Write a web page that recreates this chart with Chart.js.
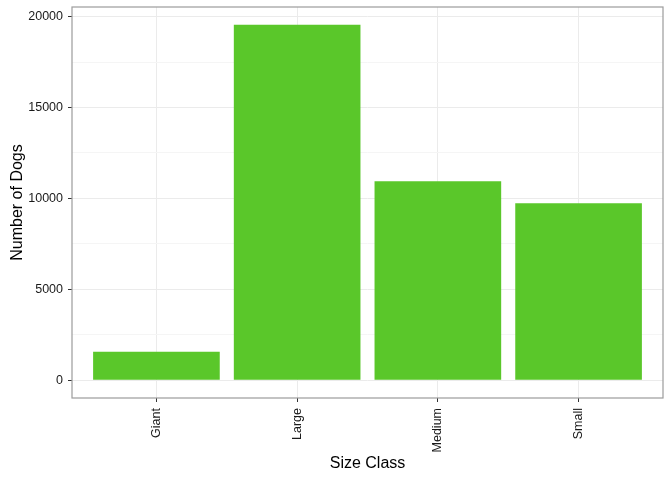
<!DOCTYPE html>
<html lang="en">
<head>
    <meta charset="UTF-8">
    <title>Number of Dogs by Size Class</title>
    <script src="https://cdn.jsdelivr.net/npm/chart.js"></script>
    <style>
        html, body {
            margin: 0;
            padding: 0;
            background: #ffffff;
        }
        .chart-container {
            width: 672px;
            height: 480px;
        }
    </style>
</head>
<body>
    <div class="chart-container">
        <canvas id="dogChart" width="672" height="480"></canvas>
    </div>
    <script>
        // Data
        const sizeClasses = ["Giant", "Large", "Medium", "Small"];
        const dogCounts = [1560, 19550, 10940, 9730];
        const yTicks = [0, 2500, 5000, 7500, 10000, 12500, 15000, 17500, 20000];
        const yLabelStep = 5000;

        const barColor = "#5AC72A";
        const fontFamily = "'Liberation Sans', Arial, sans-serif";

        // ggplot-like 5% expansion on the y range
        const yMaxData = Math.max(...dogCounts);
        const yMin = -0.05 * yMaxData;
        const yMax = 1.05 * yMaxData;

        // Draw the full panel border (top/right/bottom/left)
        const panelBorder = {
            id: "panelBorder",
            afterDatasetsDraw(chart) {
                const { ctx, chartArea } = chart;
                ctx.save();
                ctx.strokeStyle = "#9c9c9c";
                ctx.lineWidth = 1.2;
                ctx.strokeRect(chartArea.left, chartArea.top,
                    chartArea.right - chartArea.left, chartArea.bottom - chartArea.top);
                ctx.restore();
            }
        };

        const isMajor = v => v % yLabelStep === 0;

        new Chart(document.getElementById("dogChart"), {
            type: "bar",
            data: {
                datasets: [{
                    label: "Number of Dogs",
                    data: sizeClasses.map((c, i) => ({ x: i + 1, y: dogCounts[i] })),
                    backgroundColor: barColor,
                    borderWidth: 0,
                    barPercentage: 0.9,
                    categoryPercentage: 1.0
                }]
            },
            options: {
                responsive: false,
                animation: false,
                layout: {
                    padding: { top: 7, right: 9, bottom: 0, left: 0 }
                },
                plugins: {
                    legend: { display: false },
                    tooltip: { enabled: false }
                },
                scales: {
                    x: {
                        type: "linear",
                        offset: false,
                        min: 0.4,
                        max: sizeClasses.length + 0.6,
                        afterBuildTicks: scale => {
                            scale.ticks = sizeClasses.map((c, i) => ({ value: i + 1 }));
                        },
                        afterFit: scale => {
                            scale.height = 82;
                            scale.paddingLeft = 0;
                            scale.paddingRight = 0;
                        },
                        ticks: {
                            autoSkip: false,
                            minRotation: 90,
                            maxRotation: 90,
                            padding: 6,
                            color: "#1a1a1a",
                            font: { family: fontFamily, size: 12.5 },
                            callback: v => sizeClasses[v - 1] || ""
                        },
                        grid: {
                            offset: false,
                            color: "#ebebeb",
                            lineWidth: 1,
                            tickLength: 4,
                            tickColor: "#333333"
                        },
                        border: { display: false },
                        title: {
                            display: true,
                            text: "Size Class",
                            color: "#000000",
                            font: { family: fontFamily, size: 16 },
                            padding: { top: 0, bottom: 7 }
                        }
                    },
                    y: {
                        min: yMin,
                        max: yMax,
                        afterBuildTicks: scale => {
                            scale.ticks = yTicks.map(v => ({ value: v }));
                        },
                        afterFit: scale => {
                            scale.width = 72;
                            scale.paddingTop = 0;
                            scale.paddingBottom = 0;
                        },
                        ticks: {
                            padding: 5,
                            color: "#1a1a1a",
                            font: { family: fontFamily, size: 12.5 },
                            callback: v => isMajor(v) ? String(v) : ""
                        },
                        grid: {
                            color: ctx => isMajor(ctx.tick.value) ? "#ebebeb" : "#f5f5f5",
                            lineWidth: 1,
                            tickLength: 4,
                            tickColor: ctx => isMajor(ctx.tick.value) ? "#333333" : "rgba(0,0,0,0)"
                        },
                        border: { display: false },
                        title: {
                            display: true,
                            text: "Number of Dogs",
                            color: "#000000",
                            font: { family: fontFamily, size: 16 },
                            padding: { top: 8, bottom: 0 }
                        }
                    }
                }
            },
            plugins: [panelBorder]
        });
    </script>
</body>
</html>
